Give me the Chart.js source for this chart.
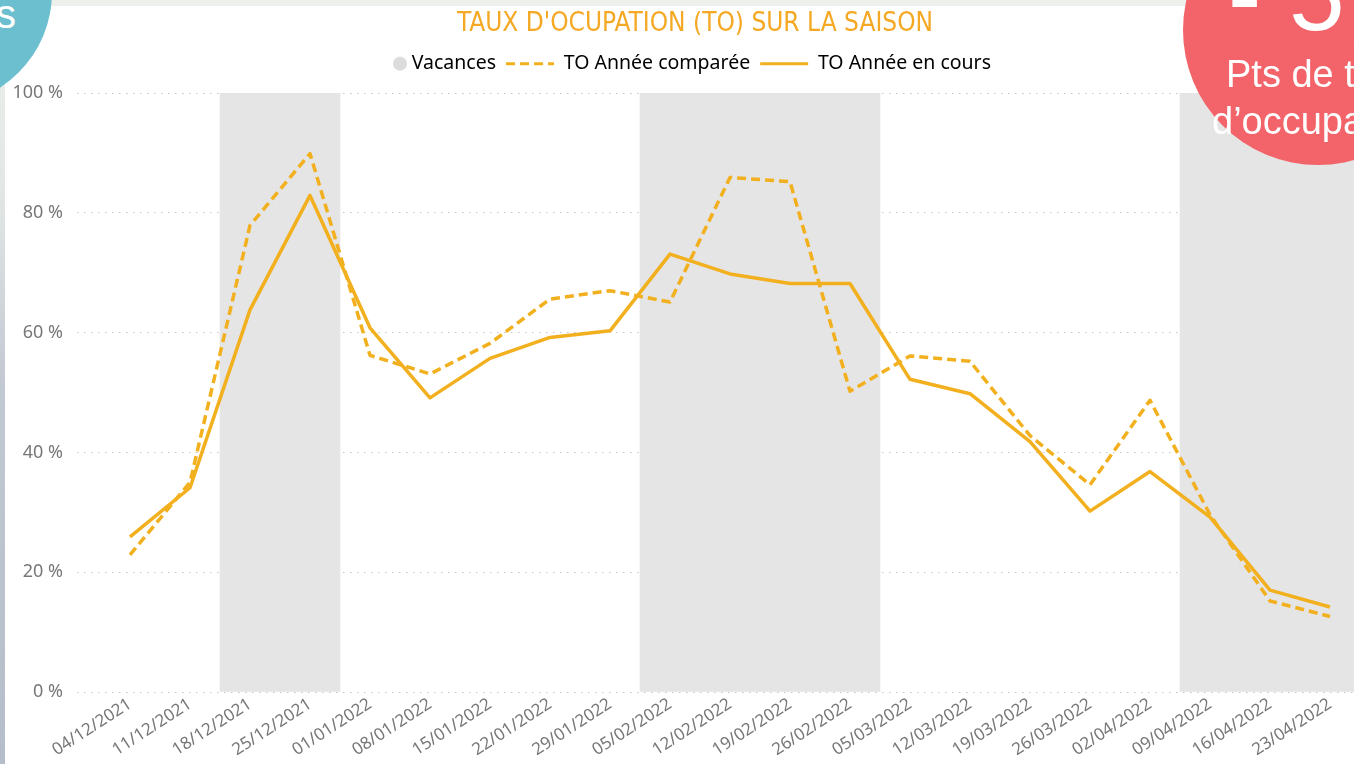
<!DOCTYPE html>
<html lang="fr">
<head>
<meta charset="utf-8">
<title>Taux d'occupation sur la saison</title>
<script src="https://cdn.jsdelivr.net/npm/chart.js@4.4.0/dist/chart.umd.min.js"></script>
<style>
  html, body { margin: 0; padding: 0; width: 1354px; height: 764px; overflow: hidden; }
  body {
    position: relative;
    background: linear-gradient(to bottom, #eef0ec 0%, #e2e7e5 25%, #c3c9d2 50%, #b6bdca 100%);
    font-family: 'Liberation Sans', Arial, sans-serif;
  }
  #carte { position: absolute; left: 5px; top: 6px; width: 1400px; height: 800px; background: #fff; }
  #c { position: absolute; left: 0; top: 0; }
  .rond { position: absolute; border-radius: 50%; }
  #rond-bleu { left: -176px; top: -122px; width: 228px; height: 228px; background: #6bbfcf; }
  #rond-rouge { left: 1183px; top: -105px; width: 270px; height: 270px; background: #f2646a; }
  .txt { position: absolute; color: #fff; white-space: nowrap; line-height: 1; }
</style>
</head>
<body>
<div id="carte"></div>
<canvas id="c" width="1390" height="764"></canvas>
<div class="rond" id="rond-bleu"></div>
<div class="txt" style="left:-4px; top:-6px; font-size:40px;">s</div>
<div class="rond" id="rond-rouge"></div>
<div class="txt" style="left:1228px; top:-55px; font-size:100px;">- 5,</div>
<div class="txt" style="left:1226px; top:55px; font-size:38px;">Pts de taux</div>
<div class="txt" style="left:1212px; top:102px; font-size:38px;">d’occupation</div>

<script>
// semaines (samedi de début)
const semaines = ['04/12/2021', '11/12/2021', '18/12/2021', '25/12/2021', '01/01/2022',
  '08/01/2022', '15/01/2022', '22/01/2022', '29/01/2022', '05/02/2022', '12/02/2022',
  '19/02/2022', '26/02/2022', '05/03/2022', '12/03/2022', '19/03/2022', '26/03/2022',
  '02/04/2022', '09/04/2022', '16/04/2022', '23/04/2022'];

// TO en %
const toEnCours = [25.9, 34.1, 63.8, 82.9, 60.8, 49.1, 55.7, 59.2, 60.3, 73.1, 69.8,
  68.2, 68.2, 52.2, 49.8, 41.8, 30.2, 36.8, 29.2, 17.0, 14.2];
const toComparee = [22.9, 35.0, 77.9, 89.9, 56.2, 53.1, 58.2, 65.6, 67.0, 65.1, 85.9,
  85.2, 50.2, 56.1, 55.2, 42.8, 34.6, 48.7, 29.6, 15.2, 12.6];

// 1 = semaine de vacances
const vacances = [0, 0, 1, 1, 0, 0, 0, 0, 0, 1, 1, 1, 1, 0, 0, 0, 0, 0, 1, 1, 1];

const jaune = '#f2b01e';
const gris = '#777777';

// petit rond gris pour la legende "Vacances"
const rond = document.createElement('canvas');
rond.width = 60;
rond.height = 16;
const rctx = rond.getContext('2d');
rctx.fillStyle = '#dcdcdc';
rctx.beginPath();
rctx.arc(52, 8, 7, 0, Math.PI * 2);
rctx.fill();

// recale titre + legende (la zone du graphe est poussee a 93px)
const recale = {
  id: 'recale',
  afterLayout(chart) {
    const lg = chart.legend, tt = chart.titleBlock;
    lg.left -= 22.5; lg.right -= 22.5;
    lg.top -= 9.5; lg.bottom -= 9.5;
    tt.top -= 8.5; tt.bottom -= 8.5;
  }
};

new Chart(document.getElementById('c'), {
  data: {
    datasets: [
      {
        type: 'line',
        label: 'TO Année comparée',
        data: toComparee.map((v, i) => ({x: i, y: v})),
        borderColor: jaune,
        borderWidth: 3.5,
        borderDash: [9, 5],
        borderJoinStyle: 'round',
        pointRadius: 0,
        order: 2
      },
      {
        type: 'line',
        label: 'TO Année en cours',
        data: toEnCours.map((v, i) => ({x: i, y: v})),
        borderColor: jaune,
        borderWidth: 3.5,
        borderJoinStyle: 'round',
        pointRadius: 0,
        order: 1
      },
      {
        type: 'bar',
        label: 'Vacances',
        data: vacances.map((v, i) => v ? {x: i, y: 100} : null).filter(p => p),
        backgroundColor: '#e5e5e5',
        borderWidth: 0,
        barPercentage: 1,
        categoryPercentage: 1,
        order: 3
      }
    ]
  },
  options: {
    responsive: false,
    animation: false,
    devicePixelRatio: 1,
    layout: {padding: 0},
    plugins: {
      tooltip: {enabled: false},
      title: {
        display: true,
        text: "TAUX D'OCUPATION (TO) SUR LA SAISON",
        color: '#f4a823',
        font: {family: 'DejaVu Sans Condensed', size: 26, weight: 'normal'},
        padding: {top: 7, bottom: 5.5}
      },
      legend: {
        labels: {
          usePointStyle: true,
          pointStyleWidth: 48,
          padding: 10,
          color: '#666666',
          font: {family: 'Noto Sans', size: 19.5},
          generateLabels: chart => {
            const ds = chart.data.datasets;
            return [
              {text: ds[2].label, pointStyle: rond, lineWidth: 0, strokeStyle: 'transparent',
                fillStyle: '#dcdcdc', hidden: false, datasetIndex: 2},
              {text: ds[0].label, pointStyle: 'line', lineWidth: 3, strokeStyle: jaune,
                lineDash: ds[0].borderDash, hidden: false, datasetIndex: 0},
              {text: ds[1].label, pointStyle: 'line', lineWidth: 3, strokeStyle: jaune,
                hidden: false, datasetIndex: 1}
            ];
          }
        }
      }
    },
    scales: {
      x: {
        type: 'linear',
        offset: false,
        min: -53 / 60,
        max: 21,
        grid: {display: false, offset: false},
        border: {display: false},
        ticks: {
          stepSize: 1,
          autoSkip: false,
          includeBounds: false,
          minRotation: 33,
          maxRotation: 33,
          padding: -6,
          color: gris,
          font: {family: 'Noto Sans', size: 17},
          callback: v => semaines[v] || ''
        },
        afterFit: s => { s.height = 72; s.paddingLeft = 0; s.paddingRight = 0; }
      },
      y: {
        min: 0,
        max: 100,
        grid: {color: '#c4c4c4', lineWidth: 1, drawTicks: false},
        border: {display: false, dash: [1.5, 5.5]},
        ticks: {
          stepSize: 20,
          padding: 14,
          color: gris,
          font: {family: 'Noto Sans', size: 18},
          callback: v => v + ' %'
        },
        afterFit: s => { s.width = 77; s.paddingTop = 93; }
      }
    }
  },
  plugins: [recale]
});
</script>
</body>
</html>
